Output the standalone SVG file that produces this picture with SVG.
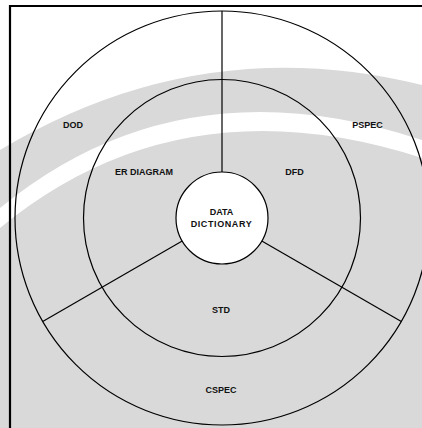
<svg xmlns="http://www.w3.org/2000/svg" width="422" height="428" viewBox="0 0 422 428">
<style>
.ring{fill:none;stroke:#000;stroke-width:1.2}
.lbl{font-family:"Liberation Sans",Arial,sans-serif;font-weight:bold;font-size:9px;fill:#111;text-anchor:middle}
.conn{stroke:#000;stroke-width:1.2;fill:none}
</style>
<g id="background">
<rect x="0" y="0" width="422" height="428" fill="#fff"/>
<path d="M0,150 Q200,30 422,85 L422,428 L0,428 Z" fill="#d9d9d9"/>
<path d="M0,208 Q180,60 422,140 L422,158 Q180,80 0,228 Z" fill="#fff"/>
</g>
<g id="frame">
<path d="M10,440 L10,6 L430,6" fill="none" stroke="#000" stroke-width="2.2"/>
</g>
<g id="outer-ring">
<circle class="ring" cx="222" cy="218" r="207"/>
<text class="lbl" x="73" y="128">DOD</text>
<text class="lbl" x="367.5" y="128">PSPEC</text>
<text class="lbl" x="221" y="393">CSPEC</text>
</g>
<g id="inner-ring">
<circle class="ring" cx="222" cy="218" r="138.5"/>
<text class="lbl" x="144" y="175">ER DIAGRAM</text>
<text class="lbl" x="294.5" y="175">DFD</text>
<text class="lbl" x="221" y="313">STD</text>
</g>
<g id="connectors">
<line class="conn" x1="222" y1="172" x2="222" y2="11"/>
<line class="conn" x1="182.2" y1="241" x2="42.7" y2="321.5"/>
<line class="conn" x1="261.8" y1="241" x2="401.3" y2="321.5"/>
</g>
<g id="data-dictionary">
<circle cx="222" cy="218" r="46" fill="#fff" stroke="#000" stroke-width="1.2"/>
<text class="lbl" x="221.5" y="215">DATA</text>
<text class="lbl" x="221.5" y="227" letter-spacing="0.6">DICTIONARY</text>
</g>
</svg>
